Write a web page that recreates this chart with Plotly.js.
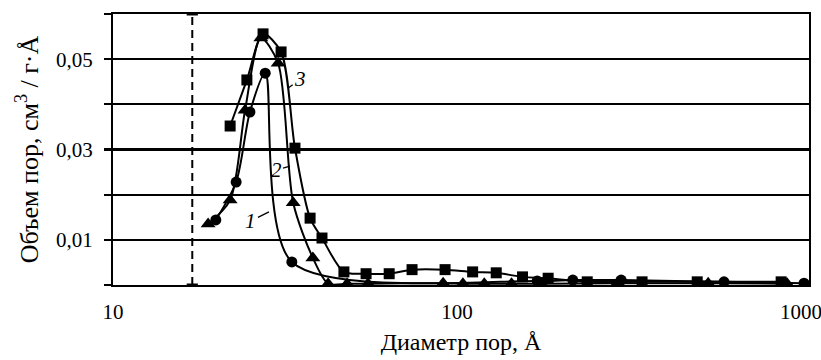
<!DOCTYPE html>
<html>
<head>
<meta charset="utf-8">
<script src="https://cdn.plot.ly/plotly-3.0.1.min.js"></script>
<style>html,body{margin:0;padding:0;background:#fff;}#chart{width:821px;height:360px;}</style>
</head>
<body>
<div id="chart"></div>
<script>
// Series 1 (circles)
const s1x = [19.9, 22.8, 25.0, 27.7, 33.1, 171, 217, 300, 597, 1020];
const s1y = [0.0144, 0.0228, 0.0383, 0.0469, 0.0051, 0.0009, 0.0011, 0.0011, 0.0007, 0.0004];
// Series 2 (triangles)
const s2x = [18.9, 21.9, 24.2, 26.9, 30.2, 33.4, 38.1, 42.2, 47.9, 55.1, 91.1, 104, 120, 144, 176, 292, 537, 911];
const s2y = [0.0135, 0.0188, 0.0387, 0.0547, 0.0491, 0.0182, 0.0060, 0.0003, 0.0003, 0.0003, 0.0004, 0.0003, 0.0003, 0.0003, 0.0003, 0.0004, 0.0004, 0.0003];
// Series 3 (squares)
const s3x = [21.9, 24.5, 27.3, 30.8, 33.8, 37.4, 40.5, 46.9, 54.4, 63.5, 74.0, 92.3, 111, 130, 155, 184, 239, 345, 499, 875];
const s3y = [0.0352, 0.0454, 0.0556, 0.0516, 0.0303, 0.0148, 0.0104, 0.0029, 0.0025, 0.0025, 0.0034, 0.0034, 0.0029, 0.0027, 0.0018, 0.0015, 0.0007, 0.0007, 0.0007, 0.0007];
// Dashed boundary
const boundaryX = 17;
const yMin = 0, yMax = 0.06;
// Curve labels
const labelText = ['1', '2', '3'];
const labelX = [28.4, 32.7, 32.3];
const labelY = [0.0162, 0.0263, 0.0436];
const labelDX = [-18, -14, 12];
const labelDY = [9, 4, -9];

const yTickVals = [0, 0.01, 0.02, 0.03, 0.04, 0.05, 0.06];
const yTickText = ['', '0,01', '', '0,03', '', '0,05', ''];
const xTickVals = [10, 100, 1000];
const xTickText = ['10', '100', '1000'];

const FONT = 'Liberation Serif';
const lineStyle = {color: '#000', width: 2, shape: 'spline', smoothing: 0.8};

const traces = [
  {x: [boundaryX, boundaryX], y: [yMin, yMax], mode: 'lines+markers', line: {color: '#000', width: 2, dash: '8px,5px'},
   marker: {symbol: 'line-ew', size: 8, line: {width: 3, color: '#000'}}, hoverinfo: 'skip', cliponaxis: false},
  {x: s1x, y: s1y, mode: 'lines+markers', line: lineStyle, marker: {symbol: 'circle', size: 11, color: '#000'}},
  {x: s2x, y: s2y, mode: 'lines+markers', line: lineStyle, marker: {symbol: 'triangle-up', size: 13, color: '#000'}},
  {x: s3x, y: s3y, mode: 'lines+markers', line: lineStyle, marker: {symbol: 'square', size: 11, color: '#000'}}
];

const annotations = labelText.map((t, i) => ({
  x: Math.log10(labelX[i]), y: labelY[i], xref: 'x', yref: 'y',
  text: t, showarrow: true, arrowhead: 0, arrowwidth: 1.3, arrowcolor: '#000',
  ax: labelDX[i], ay: labelDY[i],
  font: {family: FONT, size: 21, color: '#000', style: 'italic'}
}));

const layout = {
  width: 821, height: 360,
  margin: {l: 113, r: 12, t: 14, b: 75},
  paper_bgcolor: '#fff', plot_bgcolor: '#fff',
  showlegend: false,
  font: {family: FONT, size: 21, color: '#000'},
  xaxis: {
    type: 'log', range: [1, 3.023],
    tickvals: xTickVals, ticktext: xTickText,
    tickfont: {family: FONT, size: 21},
    ticklabeloverflow: 'allow',
    showgrid: false, zeroline: false,
    showline: true, linecolor: '#000', linewidth: 2, mirror: true,
    ticks: '', ticklabelstandoff: 7,
    title: {text: 'Диаметр пор, Å', font: {family: FONT, size: 24}, standoff: 10}
  },
  yaxis: {
    range: [yMin, yMax],
    tickvals: yTickVals, ticktext: yTickText,
    tickfont: {family: FONT, size: 21},
    showgrid: true, gridcolor: '#000', gridwidth: 2.2, zeroline: false,
    showline: true, linecolor: '#000', linewidth: 2, mirror: true,
    ticks: 'outside', ticklen: 7, tickwidth: 2.2, tickcolor: '#000',
    ticklabelstandoff: 7,
    title: {text: 'Объем пор, см<sup>3</sup> / г·Å', font: {family: FONT, size: 26}, standoff: 10}
  },
  annotations: annotations
};

Plotly.newPlot('chart', traces, layout, {staticPlot: true, displayModeBar: false});
</script>
</body>
</html>
